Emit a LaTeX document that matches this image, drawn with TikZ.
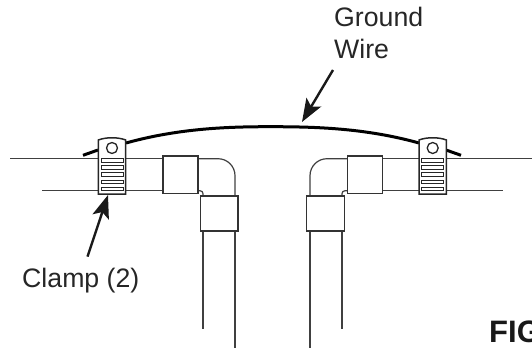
\documentclass[tikz,border=0pt]{standalone}
\usepackage{fontspec}
\setmainfont{Liberation Sans}
\usetikzlibrary{arrows.meta}

\tikzset{
    pipeline/.style={draw=black!75, line width=1.2pt},
    couplerbox/.style={draw=black!80, line width=1.5pt, fill=white},
    clampbody/.style={draw=black!85, line width=1.5pt, fill=white},
    slotbox/.style={draw=black!85, line width=1pt, fill=white},
    wireline/.style={draw=black, line width=3pt},
    pointer/.style={draw=black!90, line width=2.4pt, -{Stealth[length=23pt, width=17pt, inset=5pt]}},
    labeltext/.style={font=\fontsize{26.7}{30}\selectfont, text=black!85, inner sep=0pt, align=left}
}

\newcommand{\clampat}[1]{
    \begin{scope}[shift={(#1,0)}]
        \draw[clampbody] (-13.7,194) -- (-13.7,140) .. controls (-6,137) and (6,137) .. (13.7,140) -- (13.7,194) -- cycle;
        \draw[slotbox, line width=1.3pt] (0,148) circle (5.5);
        \foreach \y in {158.5,165.5,172.7,180,187}
            \draw[slotbox] (-11,\y) rectangle (11,\y+3.7);
    \end{scope}
}

\begin{document}
\begin{tikzpicture}[x=1pt, y=-1pt]
    \useasboundingbox (0,0) rectangle (532,348);
    % wire
    \coordinate (wireL) at (83,155.3);
    \coordinate (wireR) at (461,155.3);
    \draw[wireline] (wireL) -- (98,150);
    \draw[wireline] (446,150) -- (wireR);
    \draw[wireline] (126,143) .. controls (180,128) and (230,126.7) .. (270,126.7)
        .. controls (315,126.7) and (365,128) .. (419,143);
    % left pipes
    \draw[pipeline] (10,158.7) -- (163,158.7);
    \draw[pipeline] (42,190.7) -- (163,190.7);
    \draw[pipeline] (198,158.7) -- (218,158.7) .. controls (227.4,158.7) and (235,166.3) .. (235,175.7) -- (235,196);
    \draw[pipeline] (198,190.7) -- (200,190.7) .. controls (201.7,190.7) and (203,192) .. (203,193.7) -- (203,196);
    \draw[pipeline] (203,231) -- (203,328.6);
    \draw[pipeline] (235,231) -- (235,348);
    % right pipes
    \draw[pipeline] (532,158.7) -- (382.3,158.7);
    \draw[pipeline] (502.7,190.7) -- (382.3,190.7);
    \draw[pipeline] (347.3,158.7) -- (327,158.7) .. controls (317.6,158.7) and (310,166.3) .. (310,175.7) -- (310,196);
    \draw[pipeline] (347.3,190.7) -- (345,190.7) .. controls (343.3,190.7) and (342,192) .. (342,193.7) -- (342,196);
    \draw[pipeline] (342,231) -- (342,328.6);
    \draw[pipeline] (310,231) -- (310,348);
    % couplers
    \draw[couplerbox] (163,156) rectangle (198,193.5);
    \draw[couplerbox] (200.5,196) rectangle (238,231);
    \draw[couplerbox] (347.3,156) rectangle (382.3,193.5);
    \draw[couplerbox] (306.7,196) rectangle (344.3,231);
    % clamps
    \clampat{112}
    \clampat{432.7}
    % labels
    \node[labeltext, anchor=base west] (groundlabel) at (334,26.7) {Ground};
    \node[labeltext, anchor=base west] (wirelabel) at (334,58.3) {Wire};
    \node[labeltext, anchor=base west] (clamplabel) at (22,287) {Clamp (2)};
    \node[font=\fontsize{31}{34}\selectfont\bfseries, text=black!90, inner sep=0pt, anchor=base west] (figlabel) at (489,342.7) {FIG};
    % pointers
    \coordinate (wiretip) at (302,122);
    \coordinate (clamptip) at (108,195);
    \draw[pointer] (333,70) -- (wiretip);
    \draw[pointer] (87.5,256.6) -- (clamptip);
\end{tikzpicture}
\end{document}
